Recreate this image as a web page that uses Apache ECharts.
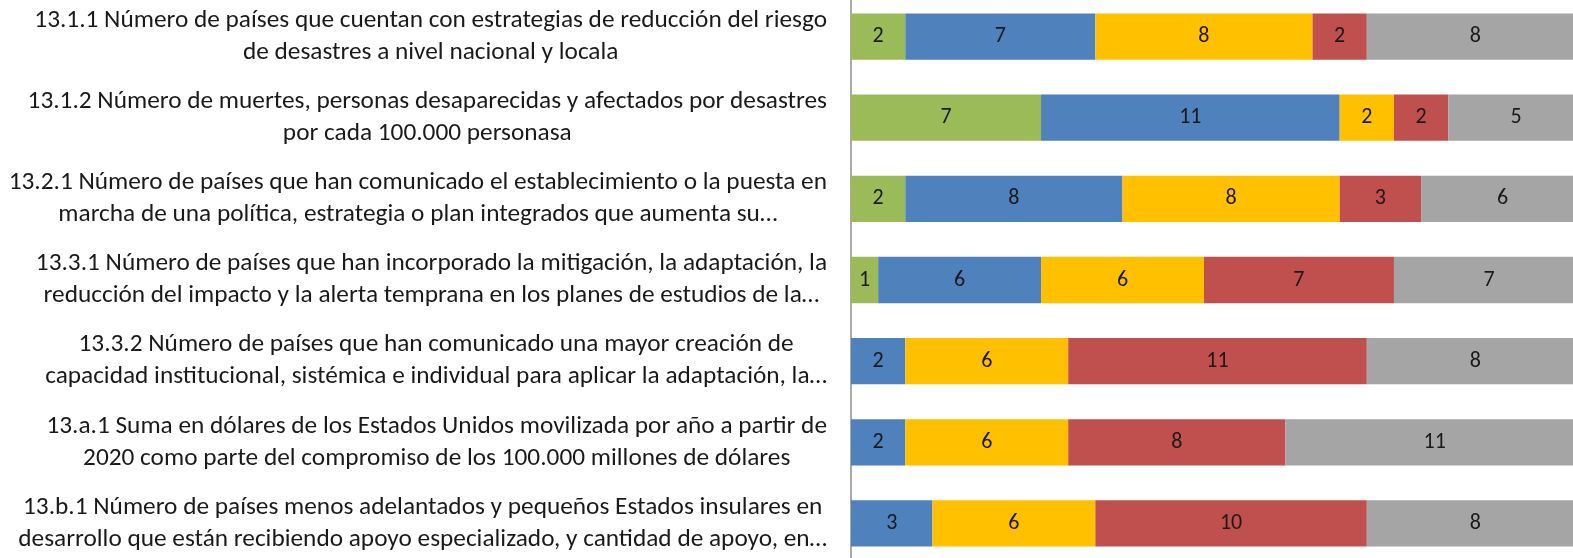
<!DOCTYPE html>
<html>
<head>
<meta charset="utf-8">
<script src="https://cdn.jsdelivr.net/npm/echarts@6/dist/echarts.min.js"></script>
<style>
html,body{margin:0;padding:0;background:#fff;overflow:hidden;width:1573px;height:558px;}
#chart{position:absolute;left:0;top:-4px;width:1600px;height:570px;}
</style>
</head>
<body>
<div id="chart"></div>
<script>
const categories = [
  "13.1.1 Número de países que cuentan con estrategias de reducción del riesgo\nde desastres a nivel nacional y locala",
  "13.1.2 Número de muertes, personas desaparecidas y afectados por desastres\npor cada 100.000 personasa",
  "13.2.1 Número de países que han comunicado el establecimiento o la puesta en\nmarcha de una política, estrategia o plan integrados que aumenta su…",
  "13.3.1 Número de países que han incorporado la mitigación, la adaptación, la\nreducción del impacto y la alerta temprana en los planes de estudios de la…",
  "13.3.2 Número de países que han comunicado una mayor creación de\ncapacidad institucional, sistémica e individual para aplicar la adaptación, la…",
  "13.a.1 Suma en dólares de los Estados Unidos movilizada por año a partir de\n2020 como parte del compromiso de los 100.000 millones de dólares",
  "13.b.1 Número de países menos adelantados y pequeños Estados insulares en\ndesarrollo que están recibiendo apoyo especializado, y cantidad de apoyo, en…"
];
const seriesNames = ["Serie1", "Serie2", "Serie3", "Serie4", "Serie5"];
const greenValues  = [2, 7, 2, 1, 0, 0, 0];
const blueValues   = [7, 11, 8, 6, 2, 2, 3];
const yellowValues = [8, 2, 8, 6, 6, 6, 6];
const redValues    = [2, 2, 3, 7, 11, 8, 10];
const grayValues   = [8, 5, 6, 7, 8, 11, 8];
const colors = ["#9BBB59", "#4F81BD", "#FFC000", "#C0504D", "#A5A5A5"];

const FONT = "Calibri, Carlito, 'Open Sans', sans-serif";
const allValues = [greenValues, blueValues, yellowValues, redValues, grayValues];

const chart = echarts.init(document.getElementById('chart'), null, {renderer: 'canvas'});
chart.setOption({
  animation: false,
  backgroundColor: '#fff',
  grid: {left: 851, top: 0, height: 568, width: 733, containLabel: false},
  xAxis: {
    type: 'value', min: 0, max: 27,
    show: false
  },
  yAxis: {
    type: 'category', inverse: true, data: categories,
    axisLine: {show: true, lineStyle: {color: '#8c8c8c', width: 1.5}},
    axisTick: {show: false},
    axisLabel: {
      margin: 24,
      formatter: function (v) {
        return v.split('\n').map(function (l) { return '{a|' + l + '}'; }).join('\n');
      },
      rich: {a: {align: 'center', fontFamily: FONT, fontSize: 25.3, color: '#1a1a1a', lineHeight: 32}}
    }
  },
  series: allValues.map(function (vals, i) {
    return {
      name: seriesNames[i], type: 'bar', stack: 'total',
      data: vals, barWidth: '57%',
      itemStyle: {color: colors[i]},
      label: {
        show: true, position: 'inside', color: '#1a1a1a',
        fontFamily: FONT, fontSize: 22,
        formatter: function (p) { return p.value ? String(p.value) : ''; }
      }
    };
  })
});
</script>
</body>
</html>
